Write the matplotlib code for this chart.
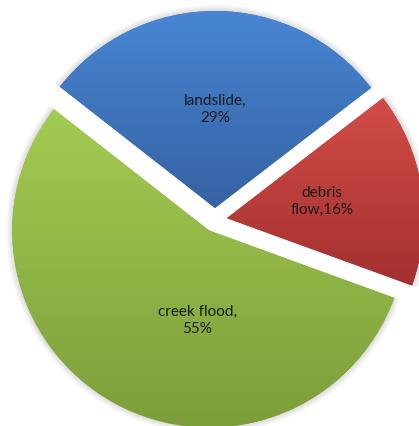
"""Pie chart of hazard types with Excel-like gradient fill."""

import numpy as np
import matplotlib.pyplot as plt
from matplotlib.colors import LinearSegmentedColormap

categories = ["debris\nflow,16%", "landslide,\n29%", "creek flood,\n55%"]
shares = [16, 29, 55]

# top / bottom colour of each slice gradient
top_colors = ["#d34c47", "#4886d3", "#a3cc52"]
bottom_colors = ["#a3302f", "#3562a3", "#7c9e3a"]

W, H = 419, 426
cx, cy = 215, H - 220
radius = 197
explode = [12] * 3  # pie offsets are in data units (pixels here)
# label position: (angle offset deg from slice middle, distance as fraction of radius)
label_pos = [(1, 0.49), (0, 0.5), (21.5, 0.46)]

fig = plt.figure(figsize=(W / 100, H / 100), dpi=100)
ax = fig.add_axes([0, 0, 1, 1])

wedges, _ = ax.pie(shares, startangle=-20, radius=radius, center=(cx, cy),
                   explode=explode, colors=top_colors,
                   wedgeprops=dict(linewidth=0))

for i, w in enumerate(wedges):
    # soft shadow
    for k in range(4):
        sh = plt.matplotlib.patches.Wedge(w.center, radius + 1.5 * (k + 1), w.theta1, w.theta2,
                                          facecolor="black", alpha=0.03, linewidth=0, zorder=1)
        ax.add_patch(sh)

    ext = w.get_path().get_extents()
    cmap = LinearSegmentedColormap.from_list("g%d" % i, [bottom_colors[i], top_colors[i]])
    grad = np.linspace(0, 1, 256).reshape(-1, 1)
    img = ax.imshow(grad, cmap=cmap, origin="lower", aspect="auto",
                    extent=[ext.x0, ext.x1, ext.y0, ext.y1], zorder=2)
    img.set_clip_path(w)

    mid = np.deg2rad((w.theta1 + w.theta2) / 2)
    ox, oy = w.center
    da, dr = label_pos[i]
    ang = mid + np.deg2rad(da)
    ax.text(ox + dr * radius * np.cos(ang), oy + dr * radius * np.sin(ang),
            categories[i], ha="center", va="center", fontsize=11,
            family="Lato", color="#1a1a1a", linespacing=1.25, zorder=3)

ax.set_xlim(0, W)
ax.set_ylim(0, H)
ax.set_aspect("equal")
ax.axis("off")
fig.savefig("out.png", dpi=100)
